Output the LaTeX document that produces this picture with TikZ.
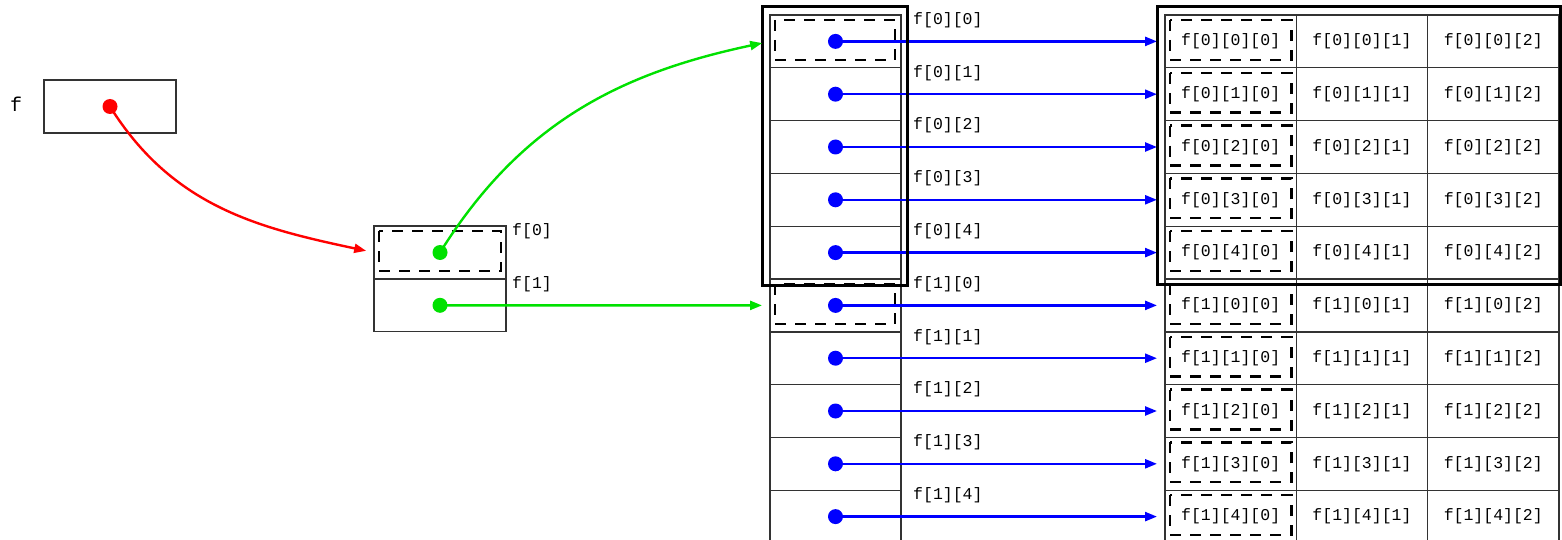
\documentclass[tikz,border=0pt]{standalone}
\usepackage{fontspec}
\newfontfamily\codefont{Liberation Mono}
\usepackage{xcolor}
\usepackage{tikz}
\usetikzlibrary{positioning,calc,arrows.meta}
\definecolor{ptrRed}{RGB}{255,0,0}
\definecolor{ptrGreen}{RGB}{0,225,0}
\definecolor{ptrBlue}{RGB}{0,0,255}
\tikzset{
  cellBox/.style={
    rectangle,
    draw=black!80,
    line width=1.4pt,
    minimum width=131pt,
    minimum height=52.8pt,
    inner sep=0pt,
    outer sep=0pt,
    font=\codefont\fontsize{16.5}{18}\selectfont
  },
  cellLabel/.style={
    anchor=west,
    inner sep=0pt,
    font=\codefont\fontsize{16.5}{18}\selectfont
  },
  ptrDot/.style={
    circle,
    fill=#1,
    minimum size=15pt,
    inner sep=0pt
  },
  ptrArrow/.style={
    -{Triangle[length=12pt,width=9pt]},
    line width=2.4pt,
    draw=#1
  },
  dashBox/.style={
    draw=black,
    line width=2.4pt,
    dash pattern=on 11pt off 9pt
  },
  frameLine/.style={
    draw=black,
    line width=3pt
  }
}

\begin{document}
\begin{tikzpicture}[x=1pt, y=1pt]
        \useasboundingbox (0,0) rectangle (1562,-540);
        \clip (0,0) rectangle (1562,-540);

        % the pointer f
        \node[cellLabel, font=\codefont\fontsize{20}{22}\selectfont] (fName) at (10,-104) {f};
        \node[cellBox, minimum width=132pt] (fBox) at (110,-106.5) {};
        \node[ptrDot=ptrRed] (fDot) at (fBox.center) {};

        % f[0] and f[1]
        \node[cellBox, minimum width=132pt] (m0) at (440,-252.5) {};
        \node[cellBox, minimum width=132pt, below=0pt of m0] (m1) {};
        \draw[dashBox] ($(m0.north west)+(5,-5)$) rectangle ($(m0.south east)+(-5,8)$);
        \node[cellLabel] (ml0) at ($(m0.north east)+(6,-5)$) {f[0]};
        \node[cellLabel] (ml1) at ($(m1.north east)+(6,-5)$) {f[1]};
        \node[ptrDot=ptrGreen] (g0) at (m0.center) {};
        \node[ptrDot=ptrGreen] (g1) at (m1.center) {};

        % f[i][j] and f[i][j][k]
        \foreach \i in {0,...,9}{
          \pgfmathtruncatemacro{\p}{\i/5}
          \pgfmathtruncatemacro{\c}{mod(\i,5)}
          \node[cellBox] (r\i) at (835.5,{-15-52.8*(\i+0.5)}) {};
          \node[cellLabel] (rl\i) at ($(r\i.north east)+(12,-5)$) {f[\p][\c]};
          \node[cellBox, minimum width=131.3pt, right=264pt of r\i] (a\i) {f[\p][\c][0]};
          \node[cellBox, minimum width=131.3pt, right=0pt of a\i] (b\i) {f[\p][\c][1]};
          \node[cellBox, minimum width=131.3pt, right=0pt of b\i] (c\i) {f[\p][\c][2]};
          \draw[dashBox] ($(a\i.north west)+(5,-5)$) rectangle ($(a\i.south east)+(-5,8)$);
          \node[ptrDot=ptrBlue] (d\i) at (r\i.center) {};
          \draw[ptrArrow=ptrBlue, shorten >=8pt] (d\i.center) -- (a\i.west);
        }
        \draw[dashBox] ($(r0.north west)+(5,-5)$) rectangle ($(r0.south east)+(-6,8)$);
        \draw[dashBox] ($(r5.north west)+(5,-5)$) rectangle ($(r5.south east)+(-6,8)$);

        % frames round f[0][*] and f[0][*][*]
        \draw[frameLine] ($(r0.north west)+(-8,8)$) rectangle ($(r4.south east)+(6,-6)$);
        \draw[frameLine] ($(a0.north west)+(-8,8)$) rectangle ($(c4.south east)+(2,-5)$);

        % pointers
        \draw[ptrArrow=ptrRed, shorten >=8pt] (fDot.center) to[out=-58,in=168] (m0.west);
        \draw[ptrArrow=ptrGreen, shorten >=8pt] (g0.center) to[out=58,in=192] (r0.west);
        \draw[ptrArrow=ptrGreen, shorten >=8pt] (g1.center) -- (r5.west);
    \end{tikzpicture}
\end{document}
